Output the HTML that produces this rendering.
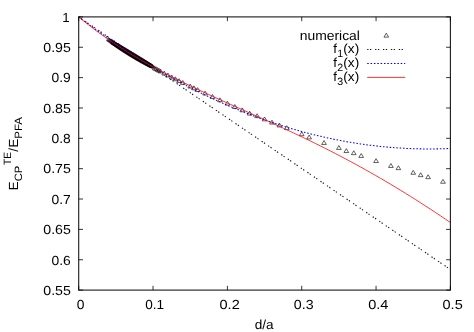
<!DOCTYPE html>
<html><head><meta charset="utf-8"><title>plot</title>
<style>html,body{margin:0;padding:0;background:#fff}svg{display:block;will-change:transform;opacity:0.999}text{font-family:"Liberation Sans",sans-serif;font-size:13.2px;text-rendering:geometricPrecision;fill:#000}</style>
</head><body>
<svg width="474" height="332" viewBox="0 0 474 332">
<rect width="474" height="332" fill="#fff"/>
<g fill="none" stroke="#000" stroke-width="0.6">
<path d="M106.44 40.70 L110.44 40.70 L108.44 37.45 Z"/>
<path d="M107.18 41.22 L111.18 41.22 L109.18 37.97 Z"/>
<path d="M107.92 41.73 L111.92 41.73 L109.92 38.48 Z"/>
<path d="M108.67 42.24 L112.67 42.24 L110.67 38.99 Z"/>
<path d="M109.41 42.75 L113.41 42.75 L111.41 39.50 Z"/>
<path d="M110.15 43.25 L114.15 43.25 L112.15 40.00 Z"/>
<path d="M110.90 43.75 L114.90 43.75 L112.90 40.50 Z"/>
<path d="M110.90 43.75 L114.90 43.75 L112.90 40.50 Z"/>
<path d="M110.90 43.75 L114.90 43.75 L112.90 40.50 Z"/>
<path d="M111.64 44.26 L115.64 44.26 L113.64 41.01 Z"/>
<path d="M111.64 44.12 L115.64 44.12 L113.64 40.87 Z"/>
<path d="M111.64 44.34 L115.64 44.34 L113.64 41.09 Z"/>
<path d="M112.38 44.75 L116.38 44.75 L114.38 41.50 Z"/>
<path d="M112.38 44.53 L116.38 44.53 L114.38 41.28 Z"/>
<path d="M112.38 44.89 L116.38 44.89 L114.38 41.64 Z"/>
<path d="M113.13 45.25 L117.13 45.25 L115.13 42.00 Z"/>
<path d="M113.13 44.95 L117.13 44.95 L115.13 41.70 Z"/>
<path d="M113.13 45.43 L117.13 45.43 L115.13 42.18 Z"/>
<path d="M113.87 45.74 L117.87 45.74 L115.87 42.49 Z"/>
<path d="M113.87 45.38 L117.87 45.38 L115.87 42.13 Z"/>
<path d="M113.87 45.96 L117.87 45.96 L115.87 42.71 Z"/>
<path d="M114.61 46.24 L118.61 46.24 L116.61 42.99 Z"/>
<path d="M114.61 45.81 L118.61 45.81 L116.61 42.56 Z"/>
<path d="M114.61 46.49 L118.61 46.49 L116.61 43.24 Z"/>
<path d="M115.36 46.73 L119.36 46.73 L117.36 43.48 Z"/>
<path d="M115.36 46.25 L119.36 46.25 L117.36 43.00 Z"/>
<path d="M115.36 47.01 L119.36 47.01 L117.36 43.76 Z"/>
<path d="M116.10 47.22 L120.10 47.22 L118.10 43.97 Z"/>
<path d="M116.10 46.69 L120.10 46.69 L118.10 43.44 Z"/>
<path d="M116.10 47.53 L120.10 47.53 L118.10 44.28 Z"/>
<path d="M116.84 47.70 L120.84 47.70 L118.84 44.45 Z"/>
<path d="M116.84 47.12 L120.84 47.12 L118.84 43.87 Z"/>
<path d="M116.84 48.05 L120.84 48.05 L118.84 44.80 Z"/>
<path d="M117.59 48.19 L121.59 48.19 L119.59 44.94 Z"/>
<path d="M117.59 47.56 L121.59 47.56 L119.59 44.31 Z"/>
<path d="M117.59 48.56 L121.59 48.56 L119.59 45.31 Z"/>
<path d="M118.33 48.67 L122.33 48.67 L120.33 45.42 Z"/>
<path d="M118.33 48.00 L122.33 48.00 L120.33 44.75 Z"/>
<path d="M118.33 49.07 L122.33 49.07 L120.33 45.82 Z"/>
<path d="M119.07 49.15 L123.07 49.15 L121.07 45.90 Z"/>
<path d="M119.07 48.44 L123.07 48.44 L121.07 45.19 Z"/>
<path d="M119.07 49.57 L123.07 49.57 L121.07 46.32 Z"/>
<path d="M119.82 49.63 L123.82 49.63 L121.82 46.38 Z"/>
<path d="M119.82 48.88 L123.82 48.88 L121.82 45.63 Z"/>
<path d="M119.82 50.07 L123.82 50.07 L121.82 46.82 Z"/>
<path d="M120.56 50.10 L124.56 50.10 L122.56 46.85 Z"/>
<path d="M120.56 49.32 L124.56 49.32 L122.56 46.07 Z"/>
<path d="M120.56 50.57 L124.56 50.57 L122.56 47.32 Z"/>
<path d="M121.30 50.58 L125.30 50.58 L123.30 47.33 Z"/>
<path d="M121.30 49.77 L125.30 49.77 L123.30 46.52 Z"/>
<path d="M121.30 51.06 L125.30 51.06 L123.30 47.81 Z"/>
<path d="M122.05 51.05 L126.05 51.05 L124.05 47.80 Z"/>
<path d="M122.05 50.21 L126.05 50.21 L124.05 46.96 Z"/>
<path d="M122.05 51.55 L126.05 51.55 L124.05 48.30 Z"/>
<path d="M122.79 51.52 L126.79 51.52 L124.79 48.27 Z"/>
<path d="M122.79 50.65 L126.79 50.65 L124.79 47.40 Z"/>
<path d="M122.79 52.04 L126.79 52.04 L124.79 48.79 Z"/>
<path d="M123.53 51.99 L127.53 51.99 L125.53 48.74 Z"/>
<path d="M123.53 51.10 L127.53 51.10 L125.53 47.85 Z"/>
<path d="M123.53 52.52 L127.53 52.52 L125.53 49.27 Z"/>
<path d="M124.28 52.45 L128.28 52.45 L126.28 49.20 Z"/>
<path d="M124.28 51.54 L128.28 51.54 L126.28 48.29 Z"/>
<path d="M124.28 53.00 L128.28 53.00 L126.28 49.75 Z"/>
<path d="M125.02 52.92 L129.02 52.92 L127.02 49.67 Z"/>
<path d="M125.02 51.99 L129.02 51.99 L127.02 48.74 Z"/>
<path d="M125.02 53.48 L129.02 53.48 L127.02 50.23 Z"/>
<path d="M125.76 53.38 L129.76 53.38 L127.76 50.13 Z"/>
<path d="M125.76 52.43 L129.76 52.43 L127.76 49.18 Z"/>
<path d="M125.76 53.95 L129.76 53.95 L127.76 50.70 Z"/>
<path d="M126.51 53.84 L130.51 53.84 L128.51 50.59 Z"/>
<path d="M126.51 52.88 L130.51 52.88 L128.51 49.63 Z"/>
<path d="M126.51 54.42 L130.51 54.42 L128.51 51.17 Z"/>
<path d="M127.25 54.30 L131.25 54.30 L129.25 51.05 Z"/>
<path d="M127.25 53.32 L131.25 53.32 L129.25 50.07 Z"/>
<path d="M127.25 54.88 L131.25 54.88 L129.25 51.63 Z"/>
<path d="M127.99 54.76 L131.99 54.76 L129.99 51.51 Z"/>
<path d="M127.99 53.77 L131.99 53.77 L129.99 50.52 Z"/>
<path d="M127.99 55.35 L131.99 55.35 L129.99 52.10 Z"/>
<path d="M128.74 55.21 L132.74 55.21 L130.74 51.96 Z"/>
<path d="M128.74 54.22 L132.74 54.22 L130.74 50.97 Z"/>
<path d="M128.74 55.81 L132.74 55.81 L130.74 52.56 Z"/>
<path d="M129.48 55.66 L133.48 55.66 L131.48 52.41 Z"/>
<path d="M129.48 54.67 L133.48 54.67 L131.48 51.42 Z"/>
<path d="M129.48 56.26 L133.48 56.26 L131.48 53.01 Z"/>
<path d="M130.22 56.12 L134.22 56.12 L132.22 52.87 Z"/>
<path d="M130.22 55.12 L134.22 55.12 L132.22 51.87 Z"/>
<path d="M130.22 56.72 L134.22 56.72 L132.22 53.47 Z"/>
<path d="M130.97 56.57 L134.97 56.57 L132.97 53.32 Z"/>
<path d="M130.97 55.57 L134.97 55.57 L132.97 52.32 Z"/>
<path d="M130.97 57.17 L134.97 57.17 L132.97 53.92 Z"/>
<path d="M131.71 57.01 L135.71 57.01 L133.71 53.76 Z"/>
<path d="M131.71 56.02 L135.71 56.02 L133.71 52.77 Z"/>
<path d="M131.71 57.61 L135.71 57.61 L133.71 54.36 Z"/>
<path d="M132.46 57.46 L136.46 57.46 L134.46 54.21 Z"/>
<path d="M132.46 56.47 L136.46 56.47 L134.46 53.22 Z"/>
<path d="M132.46 58.06 L136.46 58.06 L134.46 54.81 Z"/>
<path d="M133.20 57.91 L137.20 57.91 L135.20 54.66 Z"/>
<path d="M133.20 56.92 L137.20 56.92 L135.20 53.67 Z"/>
<path d="M133.20 58.50 L137.20 58.50 L135.20 55.25 Z"/>
<path d="M133.94 58.35 L137.94 58.35 L135.94 55.10 Z"/>
<path d="M133.94 57.37 L137.94 57.37 L135.94 54.12 Z"/>
<path d="M133.94 58.93 L137.94 58.93 L135.94 55.68 Z"/>
<path d="M134.69 58.79 L138.69 58.79 L136.69 55.54 Z"/>
<path d="M134.69 57.83 L138.69 57.83 L136.69 54.58 Z"/>
<path d="M134.69 59.37 L138.69 59.37 L136.69 56.12 Z"/>
<path d="M135.43 59.23 L139.43 59.23 L137.43 55.98 Z"/>
<path d="M135.43 58.28 L139.43 58.28 L137.43 55.03 Z"/>
<path d="M135.43 59.80 L139.43 59.80 L137.43 56.55 Z"/>
<path d="M136.17 59.67 L140.17 59.67 L138.17 56.42 Z"/>
<path d="M136.17 58.74 L140.17 58.74 L138.17 55.49 Z"/>
<path d="M136.17 60.23 L140.17 60.23 L138.17 56.98 Z"/>
<path d="M136.92 60.10 L140.92 60.10 L138.92 56.85 Z"/>
<path d="M136.92 59.19 L140.92 59.19 L138.92 55.94 Z"/>
<path d="M136.92 60.65 L140.92 60.65 L138.92 57.40 Z"/>
<path d="M137.66 60.54 L141.66 60.54 L139.66 57.29 Z"/>
<path d="M137.66 59.65 L141.66 59.65 L139.66 56.40 Z"/>
<path d="M137.66 61.07 L141.66 61.07 L139.66 57.82 Z"/>
<path d="M138.40 60.97 L142.40 60.97 L140.40 57.72 Z"/>
<path d="M138.40 60.11 L142.40 60.11 L140.40 56.86 Z"/>
<path d="M138.40 61.49 L142.40 61.49 L140.40 58.24 Z"/>
<path d="M139.15 61.40 L143.15 61.40 L141.15 58.15 Z"/>
<path d="M139.15 60.57 L143.15 60.57 L141.15 57.32 Z"/>
<path d="M139.15 61.91 L143.15 61.91 L141.15 58.66 Z"/>
<path d="M139.89 61.83 L143.89 61.83 L141.89 58.58 Z"/>
<path d="M139.89 61.03 L143.89 61.03 L141.89 57.78 Z"/>
<path d="M139.89 62.32 L143.89 62.32 L141.89 59.07 Z"/>
<path d="M140.63 62.26 L144.63 62.26 L142.63 59.01 Z"/>
<path d="M140.63 61.49 L144.63 61.49 L142.63 58.24 Z"/>
<path d="M140.63 62.73 L144.63 62.73 L142.63 59.48 Z"/>
<path d="M141.38 62.69 L145.38 62.69 L143.38 59.44 Z"/>
<path d="M141.38 61.95 L145.38 61.95 L143.38 58.70 Z"/>
<path d="M141.38 63.13 L145.38 63.13 L143.38 59.88 Z"/>
<path d="M142.12 63.11 L146.12 63.11 L144.12 59.86 Z"/>
<path d="M142.12 62.41 L146.12 62.41 L144.12 59.16 Z"/>
<path d="M142.12 63.54 L146.12 63.54 L144.12 60.29 Z"/>
<path d="M142.86 63.54 L146.86 63.54 L144.86 60.29 Z"/>
<path d="M142.86 62.87 L146.86 62.87 L144.86 59.62 Z"/>
<path d="M142.86 63.94 L146.86 63.94 L144.86 60.69 Z"/>
<path d="M143.61 63.96 L147.61 63.96 L145.61 60.71 Z"/>
<path d="M143.61 63.34 L147.61 63.34 L145.61 60.09 Z"/>
<path d="M143.61 64.33 L147.61 64.33 L145.61 61.08 Z"/>
<path d="M144.35 64.38 L148.35 64.38 L146.35 61.13 Z"/>
<path d="M144.35 63.80 L148.35 63.80 L146.35 60.55 Z"/>
<path d="M144.35 64.73 L148.35 64.73 L146.35 61.48 Z"/>
<path d="M145.09 64.80 L149.09 64.80 L147.09 61.55 Z"/>
<path d="M145.09 64.27 L149.09 64.27 L147.09 61.02 Z"/>
<path d="M145.09 65.12 L149.09 65.12 L147.09 61.87 Z"/>
<path d="M145.84 65.22 L149.84 65.22 L147.84 61.97 Z"/>
<path d="M145.84 64.74 L149.84 64.74 L147.84 61.49 Z"/>
<path d="M145.84 65.51 L149.84 65.51 L147.84 62.26 Z"/>
<path d="M146.58 65.63 L150.58 65.63 L148.58 62.38 Z"/>
<path d="M146.58 65.21 L150.58 65.21 L148.58 61.96 Z"/>
<path d="M146.58 65.89 L150.58 65.89 L148.58 62.64 Z"/>
<path d="M147.32 66.05 L151.32 66.05 L149.32 62.80 Z"/>
<path d="M147.32 65.69 L151.32 65.69 L149.32 62.44 Z"/>
<path d="M147.32 66.27 L151.32 66.27 L149.32 63.02 Z"/>
<path d="M148.07 66.46 L152.07 66.46 L150.07 63.21 Z"/>
<path d="M148.07 66.17 L152.07 66.17 L150.07 62.92 Z"/>
<path d="M148.07 66.64 L152.07 66.64 L150.07 63.39 Z"/>
<path d="M148.81 66.88 L152.81 66.88 L150.81 63.63 Z"/>
<path d="M148.81 66.65 L152.81 66.65 L150.81 63.40 Z"/>
<path d="M148.81 67.01 L152.81 67.01 L150.81 63.76 Z"/>
<path d="M149.55 67.29 L153.55 67.29 L151.55 64.04 Z"/>
<path d="M149.55 67.15 L153.55 67.15 L151.55 63.90 Z"/>
<path d="M149.55 67.37 L153.55 67.37 L151.55 64.12 Z"/>
<path d="M150.30 67.70 L154.30 67.70 L152.30 64.45 Z"/>
<path d="M151.04 68.10 L155.04 68.10 L153.04 64.85 Z"/>
<path d="M152.18 69.77 L156.88 69.77 L154.53 65.87 Z"/>
<path d="M153.66 70.57 L158.36 70.57 L156.01 66.67 Z"/>
<path d="M155.15 71.37 L159.85 71.37 L157.50 67.47 Z"/>
<path d="M156.64 72.17 L161.34 72.17 L158.99 68.27 Z"/>
<path d="M158.12 72.96 L162.82 72.96 L160.47 69.06 Z"/>
</g>
<g fill="none" stroke="#000" stroke-width="0.62">
<path d="M161.84 75.02 L166.54 75.02 L164.19 71.12 Z"/>
<path d="M165.56 76.95 L170.26 76.95 L167.91 73.05 Z"/>
<path d="M169.28 78.85 L173.97 78.85 L171.62 74.95 Z"/>
<path d="M172.99 80.72 L177.69 80.72 L175.34 76.82 Z"/>
<path d="M176.71 82.57 L181.41 82.57 L179.06 78.67 Z"/>
<path d="M180.43 84.40 L185.13 84.40 L182.78 80.50 Z"/>
<path d="M187.86 88.00 L192.56 88.00 L190.21 84.10 Z"/>
<path d="M191.58 89.77 L196.28 89.77 L193.93 85.87 Z"/>
<path d="M195.29 91.53 L199.99 91.53 L197.64 87.63 Z"/>
<path d="M202.73 94.99 L207.43 94.99 L205.08 91.09 Z"/>
<path d="M210.16 98.41 L214.86 98.41 L212.51 94.51 Z"/>
<path d="M217.60 101.79 L222.30 101.79 L219.95 97.89 Z"/>
<path d="M225.03 105.14 L229.73 105.14 L227.38 101.24 Z"/>
<path d="M232.46 108.47 L237.16 108.47 L234.81 104.57 Z"/>
<path d="M239.90 111.79 L244.60 111.79 L242.25 107.89 Z"/>
<path d="M247.33 115.11 L252.03 115.11 L249.68 111.21 Z"/>
<path d="M254.77 117.65 L259.47 117.65 L257.12 113.75 Z"/>
<path d="M262.20 120.85 L266.90 120.85 L264.55 116.95 Z"/>
<path d="M269.63 124.05 L274.33 124.05 L271.98 120.15 Z"/>
<path d="M277.07 126.95 L281.77 126.95 L279.42 123.05 Z"/>
<path d="M284.50 129.65 L289.20 129.65 L286.85 125.75 Z"/>
<path d="M299.37 135.75 L304.07 135.75 L301.72 131.85 Z"/>
<path d="M306.80 138.95 L311.50 138.95 L309.15 135.05 Z"/>
<path d="M321.67 144.45 L326.37 144.45 L324.02 140.55 Z"/>
<path d="M336.54 149.45 L341.24 149.45 L338.89 145.55 Z"/>
<path d="M343.97 152.55 L348.67 152.55 L346.32 148.65 Z"/>
<path d="M351.41 154.65 L356.11 154.65 L353.76 150.75 Z"/>
<path d="M358.84 157.45 L363.54 157.45 L361.19 153.55 Z"/>
<path d="M373.71 162.55 L378.41 162.55 L376.06 158.65 Z"/>
<path d="M388.58 167.45 L393.28 167.45 L390.93 163.55 Z"/>
<path d="M396.01 169.65 L400.71 169.65 L398.36 165.75 Z"/>
<path d="M410.88 174.25 L415.58 174.25 L413.23 170.35 Z"/>
<path d="M418.31 176.65 L423.01 176.65 L420.66 172.75 Z"/>
<path d="M425.75 178.65 L430.45 178.65 L428.10 174.75 Z"/>
<path d="M440.62 183.25 L445.32 183.25 L442.97 179.35 Z"/>
<path d="M383.95 37.15 L388.65 37.15 L386.30 33.25 Z"/>
</g>
<path d="M78.70 16.90 L450.40 269.52" fill="none" stroke="#111" stroke-width="1.1" stroke-dasharray="1.3 1.5 1.3 3.8"/>
<path d="M367.2 49.5 H405.2" fill="none" stroke="#111" stroke-width="1.1" stroke-dasharray="1.3 1.5 1.3 3.8"/>
<path d="M78.70 16.90 L81.19 18.77 L83.69 20.64 L86.18 22.48 L88.68 24.32 L91.17 26.14 L93.67 27.95 L96.16 29.74 L98.66 31.52 L101.15 33.29 L103.65 35.04 L106.14 36.78 L108.64 38.51 L111.13 40.22 L113.62 41.92 L116.12 43.61 L118.61 45.28 L121.11 46.94 L123.60 48.59 L126.10 50.22 L128.59 51.84 L131.09 53.45 L133.58 55.04 L136.08 56.62 L138.57 58.19 L141.07 59.74 L143.56 61.28 L146.06 62.81 L148.55 64.32 L151.04 65.82 L153.54 67.31 L156.03 68.78 L158.53 70.24 L161.02 71.68 L163.52 73.12 L166.01 74.54 L168.51 75.94 L171.00 77.33 L173.50 78.71 L175.99 80.08 L178.49 81.43 L180.98 82.77 L183.47 84.09 L185.97 85.40 L188.46 86.70 L190.96 87.99 L193.45 89.26 L195.95 90.52 L198.44 91.76 L200.94 92.99 L203.43 94.21 L205.93 95.42 L208.42 96.61 L210.92 97.79 L213.41 98.95 L215.90 100.10 L218.40 101.24 L220.89 102.36 L223.39 103.47 L225.88 104.57 L228.38 105.65 L230.87 106.73 L233.37 107.78 L235.86 108.83 L238.36 109.86 L240.85 110.87 L243.35 111.88 L245.84 112.87 L248.33 113.84 L250.83 114.81 L253.32 115.76 L255.82 116.69 L258.31 117.62 L260.81 118.53 L263.30 119.42 L265.80 120.31 L268.29 121.18 L270.79 122.03 L273.28 122.87 L275.78 123.70 L278.27 124.52 L280.77 125.32 L283.26 126.11 L285.75 126.89 L288.25 127.65 L290.74 128.40 L293.24 129.13 L295.73 129.86 L298.23 130.56 L300.72 131.26 L303.22 131.94 L305.71 132.61 L308.21 133.27 L310.70 133.91 L313.20 134.54 L315.69 135.15 L318.18 135.75 L320.68 136.34 L323.17 136.92 L325.67 137.48 L328.16 138.02 L330.66 138.56 L333.15 139.08 L335.65 139.59 L338.14 140.08 L340.64 140.56 L343.13 141.03 L345.63 141.49 L348.12 141.93 L350.61 142.35 L353.11 142.77 L355.60 143.17 L358.10 143.56 L360.59 143.93 L363.09 144.29 L365.58 144.64 L368.08 144.97 L370.57 145.29 L373.07 145.60 L375.56 145.89 L378.06 146.17 L380.55 146.44 L383.04 146.69 L385.54 146.93 L388.03 147.16 L390.53 147.37 L393.02 147.57 L395.52 147.76 L398.01 147.93 L400.51 148.09 L403.00 148.23 L405.50 148.37 L407.99 148.49 L410.49 148.59 L412.98 148.68 L415.48 148.76 L417.97 148.83 L420.46 148.88 L422.96 148.92 L425.45 148.94 L427.95 148.96 L430.44 148.95 L432.94 148.94 L435.43 148.91 L437.93 148.87 L440.42 148.82 L442.92 148.75 L445.41 148.66 L447.91 148.57 L450.40 148.46" fill="none" stroke="#00f" stroke-width="1.05" stroke-dasharray="1.55 1.8"/>
<path d="M367.2 63.5 H405.2" fill="none" stroke="#00f" stroke-width="1.05" stroke-dasharray="1.55 1.8"/>
<path d="M78.70 16.90 L81.19 18.96 L83.69 20.99 L86.18 22.99 L88.68 24.96 L91.17 26.89 L93.67 28.80 L96.16 30.68 L98.66 32.52 L101.15 34.34 L103.65 36.14 L106.14 37.90 L108.64 39.64 L111.13 41.36 L113.62 43.05 L116.12 44.71 L118.61 46.35 L121.11 47.97 L123.60 49.57 L126.10 51.14 L128.59 52.69 L131.09 54.22 L133.58 55.74 L136.08 57.23 L138.57 58.70 L141.07 60.16 L143.56 61.60 L146.06 63.01 L148.55 64.42 L151.04 65.81 L153.54 67.18 L156.03 68.53 L158.53 69.87 L161.02 71.20 L163.52 72.52 L166.01 73.82 L168.51 75.10 L171.00 76.38 L173.50 77.64 L175.99 78.90 L178.49 80.14 L180.98 81.37 L183.47 82.59 L185.97 83.81 L188.46 85.01 L190.96 86.21 L193.45 87.40 L195.95 88.58 L198.44 89.75 L200.94 90.92 L203.43 92.08 L205.93 93.23 L208.42 94.38 L210.92 95.53 L213.41 96.67 L215.90 97.80 L218.40 98.94 L220.89 100.06 L223.39 101.19 L225.88 102.31 L228.38 103.43 L230.87 104.55 L233.37 105.67 L235.86 106.78 L238.36 107.90 L240.85 109.01 L243.35 110.13 L245.84 111.24 L248.33 112.36 L250.83 113.47 L253.32 114.59 L255.82 115.71 L258.31 116.82 L260.81 117.95 L263.30 119.07 L265.80 120.19 L268.29 121.32 L270.79 122.45 L273.28 123.59 L275.78 124.73 L278.27 125.87 L280.77 127.02 L283.26 128.17 L285.75 129.32 L288.25 130.48 L290.74 131.64 L293.24 132.81 L295.73 133.99 L298.23 135.17 L300.72 136.36 L303.22 137.55 L305.71 138.75 L308.21 139.95 L310.70 141.17 L313.20 142.38 L315.69 143.61 L318.18 144.84 L320.68 146.08 L323.17 147.33 L325.67 148.58 L328.16 149.85 L330.66 151.12 L333.15 152.39 L335.65 153.68 L338.14 154.97 L340.64 156.28 L343.13 157.59 L345.63 158.91 L348.12 160.24 L350.61 161.57 L353.11 162.92 L355.60 164.27 L358.10 165.64 L360.59 167.01 L363.09 168.39 L365.58 169.78 L368.08 171.18 L370.57 172.59 L373.07 174.01 L375.56 175.43 L378.06 176.87 L380.55 178.32 L383.04 179.77 L385.54 181.24 L388.03 182.71 L390.53 184.19 L393.02 185.69 L395.52 187.19 L398.01 188.70 L400.51 190.22 L403.00 191.75 L405.50 193.29 L407.99 194.84 L410.49 196.39 L412.98 197.96 L415.48 199.54 L417.97 201.12 L420.46 202.71 L422.96 204.32 L425.45 205.93 L427.95 207.55 L430.44 209.18 L432.94 210.81 L435.43 212.46 L437.93 214.11 L440.42 215.78 L442.92 217.45 L445.41 219.12 L447.91 220.81 L450.40 222.50" fill="none" stroke="#ff0000" stroke-width="0.8"/>
<path d="M367.2 77.4 H405.2" fill="none" stroke="#ff0000" stroke-width="0.8"/>
<rect x="78.70" y="16.90" width="371.70" height="273.20" fill="none" stroke="#1a1a1a" stroke-width="1.1"/>
<path d="M78.70 16.90 h4.3 M450.40 16.90 h-4.3 M78.70 47.26 h4.3 M450.40 47.26 h-4.3 M78.70 77.61 h4.3 M450.40 77.61 h-4.3 M78.70 107.97 h4.3 M450.40 107.97 h-4.3 M78.70 138.32 h4.3 M450.40 138.32 h-4.3 M78.70 168.68 h4.3 M450.40 168.68 h-4.3 M78.70 199.03 h4.3 M450.40 199.03 h-4.3 M78.70 229.39 h4.3 M450.40 229.39 h-4.3 M78.70 259.74 h4.3 M450.40 259.74 h-4.3 M78.70 290.10 h4.3 M450.40 290.10 h-4.3 M78.70 290.10 v-4.3 M78.70 16.90 v4.3 M153.04 290.10 v-4.3 M153.04 16.90 v4.3 M227.38 290.10 v-4.3 M227.38 16.90 v4.3 M301.72 290.10 v-4.3 M301.72 16.90 v4.3 M376.06 290.10 v-4.3 M376.06 16.90 v4.3 M450.40 290.10 v-4.3 M450.40 16.90 v4.3" fill="none" stroke="#000" stroke-width="0.8"/>
<text x="69.60" y="21.70" text-anchor="end" textLength="7.4" lengthAdjust="spacingAndGlyphs">1</text>
<text x="70.90" y="52.06" text-anchor="end" textLength="27.6" lengthAdjust="spacingAndGlyphs">0.95</text>
<text x="70.75" y="82.41" text-anchor="end" textLength="19.3" lengthAdjust="spacingAndGlyphs">0.9</text>
<text x="70.90" y="112.77" text-anchor="end" textLength="27.6" lengthAdjust="spacingAndGlyphs">0.85</text>
<text x="70.75" y="143.12" text-anchor="end" textLength="19.3" lengthAdjust="spacingAndGlyphs">0.8</text>
<text x="70.90" y="173.48" text-anchor="end" textLength="27.6" lengthAdjust="spacingAndGlyphs">0.75</text>
<text x="70.75" y="203.83" text-anchor="end" textLength="19.3" lengthAdjust="spacingAndGlyphs">0.7</text>
<text x="70.90" y="234.19" text-anchor="end" textLength="27.6" lengthAdjust="spacingAndGlyphs">0.65</text>
<text x="70.75" y="264.54" text-anchor="end" textLength="19.3" lengthAdjust="spacingAndGlyphs">0.6</text>
<text x="70.90" y="294.90" text-anchor="end" textLength="27.6" lengthAdjust="spacingAndGlyphs">0.55</text>
<text x="76.8" y="309" textLength="7.7" lengthAdjust="spacingAndGlyphs">0</text>
<text x="145.19" y="309" textLength="18.9" lengthAdjust="spacingAndGlyphs">0.1</text>
<text x="219.53" y="309" textLength="20.2" lengthAdjust="spacingAndGlyphs">0.2</text>
<text x="293.87" y="309" textLength="19.8" lengthAdjust="spacingAndGlyphs">0.3</text>
<text x="368.21" y="309" textLength="20.2" lengthAdjust="spacingAndGlyphs">0.4</text>
<text x="442.55" y="309" textLength="20.2" lengthAdjust="spacingAndGlyphs">0.5</text>
<text x="254.7" y="329.4" textLength="18.9" lengthAdjust="spacingAndGlyphs">d/a</text>
<text x="359.9" y="40.2" text-anchor="end" textLength="60.2" lengthAdjust="spacingAndGlyphs">numerical</text>
<text y="52.7"><tspan x="333.2">f</tspan><tspan x="337.2" dy="4.2" font-size="10.6px">1</tspan><tspan x="343.3" dy="-4.2" textLength="15.9" lengthAdjust="spacingAndGlyphs">(x)</tspan></text>
<text y="66.6"><tspan x="333.2">f</tspan><tspan x="337.2" dy="4.2" font-size="10.6px">2</tspan><tspan x="343.3" dy="-4.2" textLength="15.9" lengthAdjust="spacingAndGlyphs">(x)</tspan></text>
<text y="80.6"><tspan x="333.2">f</tspan><tspan x="337.2" dy="4.2" font-size="10.6px">3</tspan><tspan x="343.3" dy="-4.2" textLength="15.9" lengthAdjust="spacingAndGlyphs">(x)</tspan></text>
<g transform="translate(18.05 189.35) rotate(-90)"><text><tspan x="-1" y="0">E</tspan><tspan x="8.0" y="4.35" font-size="10.6px" textLength="15.6" lengthAdjust="spacingAndGlyphs">CP</tspan><tspan x="24.3" y="-7.3" font-size="10.6px" textLength="13.0" lengthAdjust="spacingAndGlyphs">TE</tspan><tspan x="37.6" y="0">/</tspan><tspan x="41.9" y="0">E</tspan><tspan x="50.6" y="4.35" font-size="10.6px" textLength="21.7" lengthAdjust="spacingAndGlyphs">PFA</tspan></text></g>
</svg>
</body></html>
